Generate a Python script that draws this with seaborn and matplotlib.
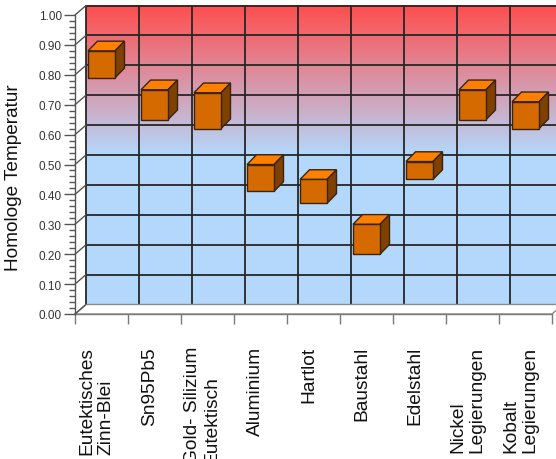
import numpy as np
import pandas as pd
import matplotlib
matplotlib.use("Agg")
import matplotlib.pyplot as plt
import seaborn as sns
from matplotlib.patches import Polygon, Rectangle
from matplotlib.colors import LinearSegmentedColormap
from matplotlib.ticker import FormatStrFormatter, MultipleLocator

# --- data -------------------------------------------------------------
materials = [
    "Eutektisches\nZinn-Blei",
    "Sn95Pb5",
    "Gold- Silizium\nEutektisch",
    "Aluminium",
    "Hartlot",
    "Baustahl",
    "Edelstahl",
    "Nickel\nLegierungen",
    "Kobalt\nLegierungen",
]
t_low = [0.79, 0.65, 0.62, 0.41, 0.37, 0.20, 0.45, 0.65, 0.62]
t_high = [0.88, 0.75, 0.74, 0.50, 0.45, 0.30, 0.51, 0.75, 0.71]
y_ticks = [0.0, 0.1, 0.2, 0.3, 0.4, 0.5, 0.6, 0.7, 0.8, 0.9, 1.0]

# --- styling ----------------------------------------------------------
sns.set_theme(style="white")
plt.rcParams["font.family"] = ["Liberation Sans", "DejaVu Sans"]

W, H = 556, 460
fig = plt.figure(figsize=(W / 100, H / 100), dpi=100)
fig.patch.set_facecolor("white")

# front plane of the plot in pixels
left_px, right_px, bottom_px, top_px = 75, 552, 315, 16
ax = fig.add_axes([left_px / W, (H - bottom_px) / H,
                   (right_px - left_px) / W, (bottom_px - top_px) / H])

n = len(materials)
px_per_x = (right_px - left_px) / n          # pixels per category
px_per_y = (bottom_px - top_px) / 1.0        # pixels per unit value

# depth offsets (pixels -> data units)
wall_dx, wall_dy = 11 / px_per_x, 9.5 / px_per_y
box_dx, box_dy = 9.5 / px_per_x, 9.7 / px_per_y

x0, x1 = -0.5, n - 0.5

# --- back wall --------------------------------------------------------
blue = np.array([180, 216, 252]) / 255
red = np.array([255, 78, 78]) / 255
cmap = LinearSegmentedColormap.from_list("wall", [blue, red])
grad = np.linspace(0, 1, 256).reshape(-1, 1)
ax.imshow(grad, cmap=cmap, aspect="auto", origin="lower",
          extent=[x0 + wall_dx, x1 + wall_dx, 0.5 + wall_dy, 1.0 + wall_dy],
          zorder=0, clip_on=False, interpolation="bilinear")
ax.add_patch(Rectangle((x0 + wall_dx, wall_dy), x1 - x0, 0.5,
                       facecolor=blue, edgecolor="none", zorder=0, clip_on=False))

grid_kw = dict(color="#262626", lw=1.3, zorder=1, clip_on=False)
for yv in y_ticks:
    ax.plot([x0 + wall_dx, x1 + wall_dx], [yv + wall_dy, yv + wall_dy], **grid_kw)
for k in range(n + 1):
    xb = x0 + k
    ax.plot([xb + wall_dx, xb + wall_dx], [wall_dy, 1.0 + wall_dy], **grid_kw)

# floor
ax.add_patch(Polygon([(x0, 0), (x1, 0), (x1 + wall_dx, wall_dy), (x0 + wall_dx, wall_dy)],
                     closed=True, facecolor="white", edgecolor="#8a8a8a", lw=1.0,
                     zorder=1.5, clip_on=False))

# diagonal edges from the value axis to the wall
for yv in y_ticks:
    ax.plot([x0, x0 + wall_dx], [yv, yv + wall_dy], color="#555555", lw=1.0,
            zorder=2, clip_on=False)

# --- floating boxes ---------------------------------------------------
df = pd.DataFrame({"material": materials,
                   "span": np.array(t_high) - np.array(t_low)})
front_c, top_c, side_c, edge_c = "#d46a00", "#ff8000", "#7f4000", "#3a2410"
sns.barplot(data=df, x="material", y="span", ax=ax, color=front_c,
            saturation=1, width=27 / px_per_x, edgecolor=edge_c,
            linewidth=1.0, zorder=4)

for patch, lo, hi in zip(ax.patches[-n:], t_low, t_high):
    patch.set_y(lo)
    patch.set_height(hi - lo)
    patch.set_clip_on(False)
    bx0 = patch.get_x()
    bx1 = bx0 + patch.get_width()
    top = Polygon([(bx0, hi), (bx1, hi), (bx1 + box_dx, hi + box_dy), (bx0 + box_dx, hi + box_dy)],
                  closed=True, facecolor=top_c, edgecolor=edge_c, lw=1.0,
                  zorder=3, clip_on=False)
    side = Polygon([(bx1, lo), (bx1 + box_dx, lo + box_dy), (bx1 + box_dx, hi + box_dy), (bx1, hi)],
                   closed=True, facecolor=side_c, edgecolor=edge_c, lw=1.0,
                   zorder=3, clip_on=False)
    ax.add_patch(top)
    ax.add_patch(side)

# --- axes -------------------------------------------------------------
ax.set_xlim(x0, x1)
ax.set_ylim(0, 1.0)
ax.patch.set_visible(False)
ax.grid(False)
for s in ("top", "right"):
    ax.spines[s].set_visible(False)
ax.spines["left"].set_color("#555555")
ax.spines["left"].set_linewidth(1.0)
ax.spines["bottom"].set_color("#7a7a7a")
ax.spines["bottom"].set_linewidth(1.0)
ax.spines["left"].set_zorder(5)

ax.set_yticks(y_ticks)
ax.yaxis.set_major_formatter(FormatStrFormatter("%.2f"))
ax.yaxis.set_minor_locator(MultipleLocator(0.02))
ax.tick_params(axis="y", which="major", direction="out", length=8, width=1,
               color="#555555", labelsize=8.5, labelcolor="#333333", pad=1.5, left=True)
ax.tick_params(axis="y", which="minor", direction="out", length=4, width=1,
               color="#555555", left=True)

ax.set_xticks([x0 + k for k in range(n + 1)])
ax.set_xticklabels([])
ax.tick_params(axis="x", which="major", direction="out", length=7, width=1,
               color="#7a7a7a", bottom=True)
ax.set_xlabel("")
ax.set_ylabel("")

label_y = -(347 - bottom_px) / px_per_y
for i, name in enumerate(materials):
    t = ax.text(i - 5 / px_per_x, label_y, name, rotation=90, ha="center", va="top",
                fontsize=13.8, color="#111111", linespacing=1.2, clip_on=False)
    t.set_multialignment("left")

fig.text(14 / W, 1 - 178 / H, "Homologe Temperatur", rotation=90,
         ha="center", va="center", fontsize=13.7, color="#111111")

fig.savefig("out.png", dpi=100)
